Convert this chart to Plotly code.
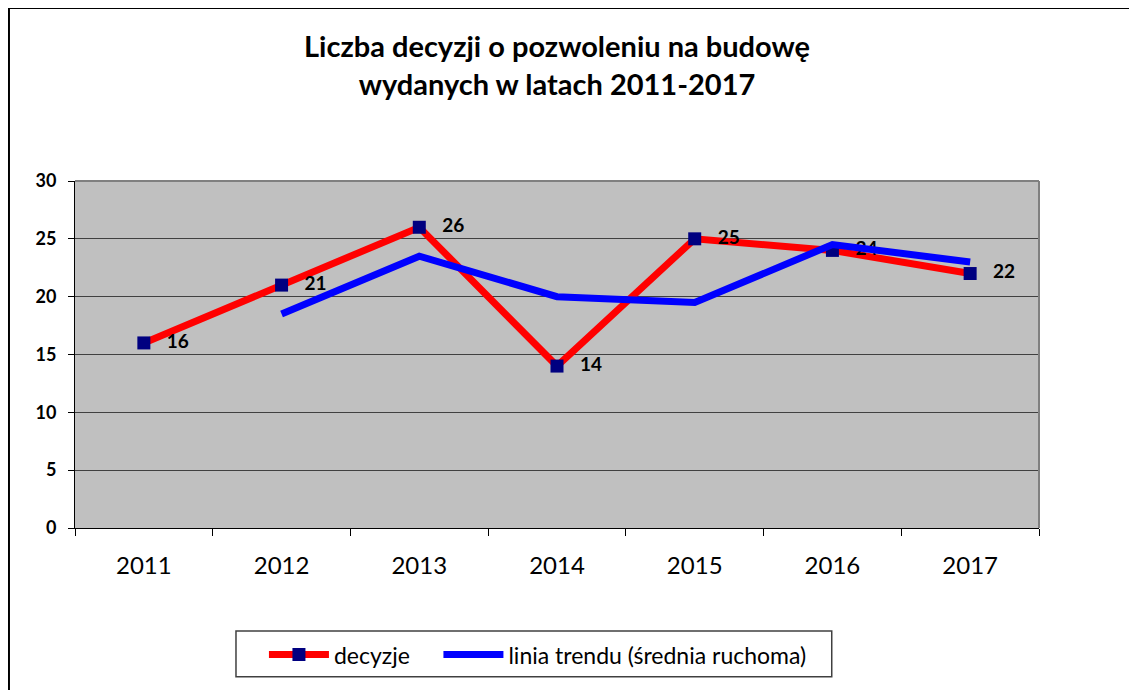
import plotly.graph_objects as go

lata = ["2011", "2012", "2013", "2014", "2015", "2016", "2017"]
decyzje = [16, 21, 26, 14, 25, 24, 22]
trend_lata = ["2012", "2013", "2014", "2015", "2016", "2017"]
trend = [18.5, 23.5, 20, 19.5, 24.5, 23]
y_ticks = [0, 5, 10, 15, 20, 25, 30]

FONT = "Lato, 'Open Sans', sans-serif"
NBSP = "\u00a0"

fig = go.Figure()
fig.add_trace(go.Scatter(
    x=lata, y=decyzje, name="decyzje" + NBSP * 4, mode="lines+markers+text",
    line=dict(color="#FF0000", width=7),
    marker=dict(symbol="square", size=13, color="#000080"),
    text=[NBSP * 3 + str(v) for v in decyzje], textposition="middle right",
    textfont=dict(family=FONT, size=19, color="black", weight="bold"),
))
fig.add_trace(go.Scatter(
    x=trend_lata, y=trend, name="linia trendu (średnia ruchoma)", mode="lines",
    line=dict(color="#0000FF", width=7),
))

# the page has an 8px body margin, so the figure is a bit smaller than the window
fig.update_layout(
    width=1129, height=682,
    margin=dict(l=67, r=98, t=173, b=162),
    paper_bgcolor="white", plot_bgcolor="#C0C0C0",
    font=dict(family=FONT, color="black"),
    title=dict(
        text="Liczba decyzji o pozwoleniu na budowę<br>wydanych w latach 2011-2017",
        x=0.5, xref="paper", xanchor="center", y=1 - 49 / 682, yanchor="middle",
        font=dict(size=29, weight="bold", family=FONT),
    ),
    legend=dict(
        orientation="h", x=0.196, xanchor="left", y=-0.365, yanchor="middle",
        borderwidth=0, bgcolor="rgba(0,0,0,0)",
        font=dict(size=23, family=FONT), itemwidth=60, entrywidth=0,
    ),
    showlegend=True,
)
fig.update_xaxes(
    type="category", range=[-0.5, 6.5], tickson="boundaries", ticks="outside",
    ticklen=7, tickcolor="black", showline=True, linecolor="black", linewidth=1,
    showgrid=False, tickfont=dict(size=24, family=FONT), ticklabelstandoff=16,
)
fig.update_yaxes(
    range=[0, 30], tickvals=y_ticks, ticks="outside", ticklen=6,
    tickcolor="black", showline=True, linecolor="black", linewidth=1,
    showgrid=True, gridcolor="#404040", gridwidth=1, zeroline=False,
    tickfont=dict(size=18, family=FONT, weight="bold"), ticklabelstandoff=8,
)
# frame around the whole chart
fig.add_shape(type="rect", xref="paper", yref="paper",
              x0=-0.0685, x1=1.0975, y0=-0.49, y1=1.4986,
              line=dict(color="black", width=2), layer="below")
# legend box
fig.add_shape(type="rect", xref="paper", yref="paper",
              x0=0.167, x1=0.785, y0=-0.429, y1=-0.297,
              line=dict(color="#404040", width=1.5), layer="below")
# right and top border of the plot area
fig.add_shape(type="line", xref="paper", yref="paper", x0=1, x1=1, y0=0, y1=1,
              line=dict(color="#808080", width=2))
fig.add_shape(type="line", xref="paper", yref="paper", x0=0, x1=1, y0=1, y1=1,
              line=dict(color="#808080", width=2))

fig.write_html("out.html")
